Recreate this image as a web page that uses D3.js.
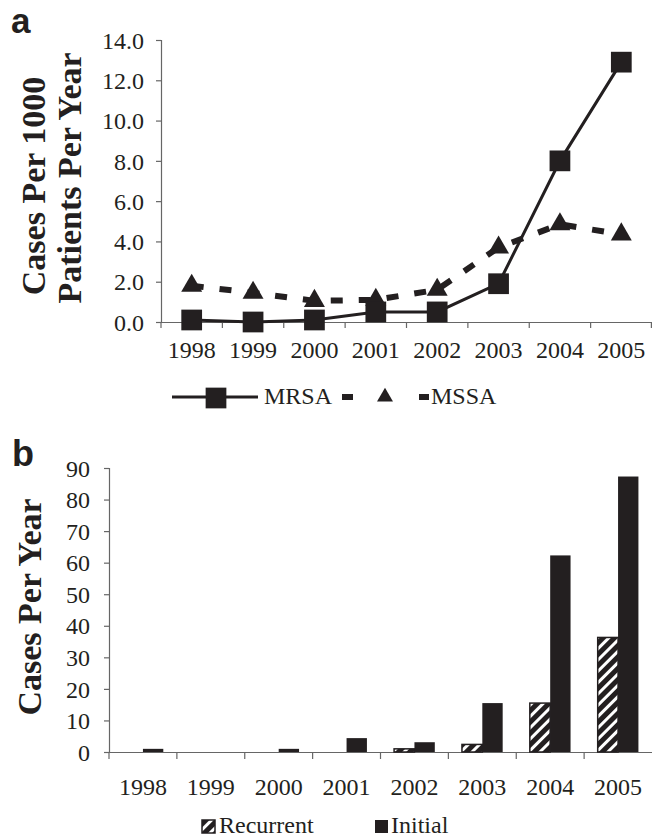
<!DOCTYPE html>
<html><head><meta charset="utf-8">
<script src="https://cdn.jsdelivr.net/npm/d3@7"></script>
<style>body{margin:0;background:#fff}svg{display:block}</style>
</head><body>
<svg id="c" width="652" height="837"></svg>
<script>
const years = ["1998","1999","2000","2001","2002","2003","2004","2005"];
const mrsa = [0.1, 0.0, 0.1, 0.5, 0.5, 1.9, 8.0, 12.9];
const mssa = [1.8, 1.45, 1.05, 1.1, 1.6, 3.7, 4.85, 4.35];
const rateTicks = [0, 2, 4, 6, 8, 10, 12, 14];
const recurrent = [0, 0, 0, 0, 1, 2.4, 15.5, 36.3];
const initial = [1, 0, 1, 4.4, 3.1, 15.5, 62.3, 87.3];
const countTicks = [0, 10, 20, 30, 40, 50, 60, 70, 80, 90];

const ink = "#231f20";
const axisCol = "#666";
const serif = "'Liberation Serif', 'Times New Roman', Times, serif";
const sans = "'Liberation Sans', Arial, sans-serif";
const svg = d3.select("#c");

const defs = svg.append("defs");
const pat = defs.append("pattern").attr("id","hatch").attr("patternUnits","userSpaceOnUse")
  .attr("width",8).attr("height",8).attr("patternTransform","rotate(45)");
pat.append("rect").attr("width",8).attr("height",8).attr("fill",ink);
pat.append("rect").attr("x",0).attr("y",0).attr("width",3).attr("height",8).attr("fill","#fff");

function styleAxis(g){
  g.attr("font-family", null).attr("font-size", null);
  g.select(".domain").attr("stroke",axisCol).attr("stroke-width",1.2);
  g.selectAll(".tick line").attr("stroke",axisCol).attr("stroke-width",1.2);
  g.selectAll("text").style("font-family",serif).style("font-size","24px").attr("fill",ink);
}

// ---------- Panel a ----------
const xa = d3.scaleBand().domain(years).range([161, 652]);
const ya = d3.scaleLinear().domain([0, 14]).range([322, 40]);
const ga = svg.append("g");

ga.append("text").attr("x",11).attr("y",33).text("a")
  .style("font-family",sans).style("font-weight","bold").style("font-size","35px").attr("fill",ink);

const yAxA = ga.append("g").attr("transform","translate(161,0)")
  .call(d3.axisLeft(ya).tickValues(rateTicks).tickFormat(d3.format(".1f")).tickSize(5).tickPadding(12));
yAxA.selectAll(".tick text").attr("dy","0.34em");
const xAxA = ga.append("g").attr("transform","translate(0,322)")
  .call(d3.axisBottom(xa).tickSize(0).tickPadding(19));
xAxA.selectAll(".tick").append("line").attr("x1",-xa.bandwidth()/2).attr("x2",-xa.bandwidth()/2).attr("y2",6);
xAxA.append("line").attr("class","endtick").attr("x1",651.4).attr("x2",651.4).attr("y1",0).attr("y2",6).attr("stroke",axisCol).attr("stroke-width",1.2);
styleAxis(yAxA); styleAxis(xAxA);

ga.append("text").attr("transform","translate(45,186) rotate(-90)").attr("text-anchor","middle")
  .style("font-family",serif).style("font-weight","bold").style("font-size","34px").attr("fill",ink).text("Cases Per 1000");
ga.append("text").attr("transform","translate(81,178) rotate(-90)").attr("text-anchor","middle")
  .style("font-family",serif).style("font-weight","bold").style("font-size","34px").attr("fill",ink).text("Patients Per Year");

const cx = d => xa(d) + xa.bandwidth()/2;
const lineA = (vals) => d3.line().x((d,i)=>cx(years[i])).y(d=>ya(d))(vals);
ga.append("path").attr("d", lineA(mssa)).attr("fill","none").attr("stroke",ink).attr("stroke-width",6).attr("stroke-dasharray","12,16");
ga.append("path").attr("d", lineA(mrsa)).attr("fill","none").attr("stroke",ink).attr("stroke-width",3);
const tri = d3.symbol(d3.symbolTriangle, 190);
const sq = d3.symbol(d3.symbolSquare, 430);
ga.selectAll(".tri").data(mssa).enter().append("path")
  .attr("d",tri).attr("transform",(d,i)=>`translate(${cx(years[i])},${ya(d)})`).attr("fill",ink);
ga.selectAll(".sq").data(mrsa).enter().append("path")
  .attr("d",sq).attr("transform",(d,i)=>`translate(${cx(years[i])},${ya(d)})`).attr("fill",ink);

// legend a
const lgY = 397;
ga.append("line").attr("x1",172).attr("x2",258).attr("y1",lgY).attr("y2",lgY).attr("stroke",ink).attr("stroke-width",3);
ga.append("path").attr("d",sq).attr("transform",`translate(216,${lgY+1})`).attr("fill",ink);
ga.append("text").attr("x",264).attr("y",lgY+7).text("MRSA").style("font-family",serif).style("font-size","24px").attr("fill",ink);
ga.append("line").attr("x1",342).attr("x2",429).attr("y1",lgY).attr("y2",lgY).attr("stroke",ink).attr("stroke-width",6).attr("stroke-dasharray","11,67");
ga.append("line").attr("x1",419).attr("x2",429).attr("y1",lgY).attr("y2",lgY).attr("stroke",ink).attr("stroke-width",6);
ga.append("path").attr("d",d3.symbol(d3.symbolTriangle, 110)).attr("transform",`translate(385,${lgY})`).attr("fill",ink);
ga.append("text").attr("x",431).attr("y",lgY+7).text("MSSA").style("font-family",serif).style("font-size","24px").attr("fill",ink);

// ---------- Panel b ----------
const xb = d3.scaleBand().domain(years).range([109, 652]);
const yb = d3.scaleLinear().domain([0, 90]).range([752, 468]);
const gb = svg.append("g");

gb.append("text").attr("x",12).attr("y",466).text("b")
  .style("font-family",sans).style("font-weight","bold").style("font-size","36px").attr("fill",ink);

const yAxB = gb.append("g").attr("transform","translate(109,0)")
  .call(d3.axisLeft(yb).tickValues(countTicks).tickSize(5).tickPadding(14));
yAxB.selectAll(".tick text").attr("dy","0.34em");
const xAxB = gb.append("g").attr("transform","translate(0,752)")
  .call(d3.axisBottom(xb).tickSize(0).tickPadding(26));
xAxB.selectAll(".tick").append("line").attr("x1",-xb.bandwidth()/2).attr("x2",-xb.bandwidth()/2).attr("y2",7);
styleAxis(yAxB); styleAxis(xAxB);

gb.append("text").attr("transform","translate(41,607) rotate(-90)").attr("text-anchor","middle")
  .style("font-family",serif).style("font-weight","bold").style("font-size","34px").attr("fill",ink).text("Cases Per Year");

const bw = xb.bandwidth()*0.3;
const c0 = d => xb(d) + xb.bandwidth()/2;
gb.selectAll(".rec").data(recurrent).enter().append("rect")
  .attr("x",(d,i)=>c0(years[i]) - bw).attr("width",bw)
  .attr("y",d=>yb(d)).attr("height",d=>yb(0)-yb(d))
  .attr("fill","url(#hatch)").attr("stroke",ink).attr("stroke-width",d=>d>0?1.5:0);
gb.selectAll(".ini").data(initial).enter().append("rect")
  .attr("x",(d,i)=>c0(years[i])).attr("width",bw)
  .attr("y",d=>yb(d)).attr("height",d=>yb(0)-yb(d))
  .attr("fill",ink);

// legend b
const lbY = 826;
gb.append("rect").attr("x",202).attr("y",lbY-6).attr("width",13).attr("height",13).attr("fill","url(#hatch)").attr("stroke",ink).attr("stroke-width",1.5);
gb.append("text").attr("x",219).attr("y",lbY+7).text("Recurrent").style("font-family",serif).style("font-size","24px").attr("fill",ink);
gb.append("rect").attr("x",375).attr("y",lbY-6).attr("width",13).attr("height",13).attr("fill",ink);
gb.append("text").attr("x",391).attr("y",lbY+7).text("Initial").style("font-family",serif).style("font-size","24px").attr("fill",ink);
</script>
</body></html>
